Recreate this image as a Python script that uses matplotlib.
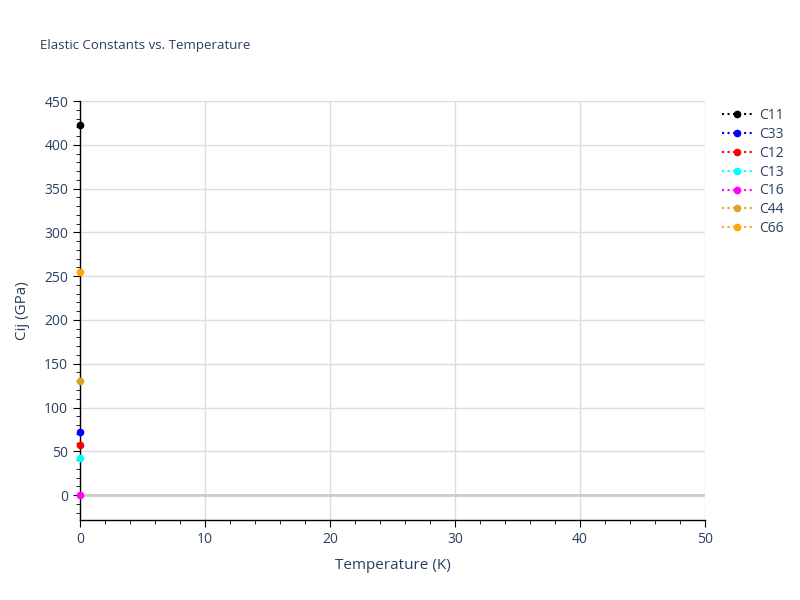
import matplotlib
matplotlib.use("Agg")
import matplotlib.pyplot as plt
from matplotlib.ticker import MultipleLocator

plt.rcParams['font.family'] = ['Open Sans', 'DejaVu Sans']

names = ["C11", "C33", "C12", "C13", "C16", "C44", "C66"]
colors = ["black", "blue", "red", "cyan", "magenta", "goldenrod", "orange"]
temps = [0]
values = {
    "C11": [423],
    "C33": [71.5],
    "C12": [57],
    "C13": [42],
    "C16": [0],
    "C44": [130],
    "C66": [255],
}

txt = "#2a3f5f"
fig = plt.figure(figsize=(8, 6), dpi=100)
ax = fig.add_axes([0.1, 0.1333, 0.78125, 0.6983])

for n, c in zip(names, colors):
    ax.plot(temps, values[n], linestyle=':', color=c, marker='o', markersize=4.5,
            linewidth=1.5, label=n, clip_on=False, zorder=5)

ax.set_xlim(0, 50)
ax.set_ylim(-28.5, 450)
ax.xaxis.set_major_locator(MultipleLocator(10))
ax.xaxis.set_minor_locator(MultipleLocator(2))
ax.yaxis.set_major_locator(MultipleLocator(50))
ax.yaxis.set_minor_locator(MultipleLocator(10))
ax.grid(True, which='major', color='#dddddd', linewidth=1)
ax.axhline(0, color='#cccccc', linewidth=2, zorder=1)
ax.set_axisbelow(True)
for s in ['top', 'right']:
    ax.spines[s].set_visible(False)
for s in ['left', 'bottom']:
    ax.spines[s].set_color('black')
    ax.spines[s].set_linewidth(1)
ax.tick_params(which='major', length=5, color='black', labelcolor=txt, labelsize=10, direction='out')
ax.tick_params(which='minor', length=3, color='black', direction='out')
ax.set_xlabel("Temperature (K)", color=txt, fontsize=11, labelpad=8)
ax.set_ylabel("Cij (GPa)", color=txt, fontsize=11, labelpad=10)

fig.text(0.05, 1 - 45/600, "Elastic Constants vs. Temperature", color=txt, fontsize=9.5, va='center')

leg = ax.legend(loc='upper left', bbox_to_anchor=(1.018, 0.997), frameon=False,
                fontsize=10, labelcolor=txt, handlelength=2.2, handletextpad=0.5,
                labelspacing=0.28, borderaxespad=0)

fig.savefig("out.png", dpi=100)
